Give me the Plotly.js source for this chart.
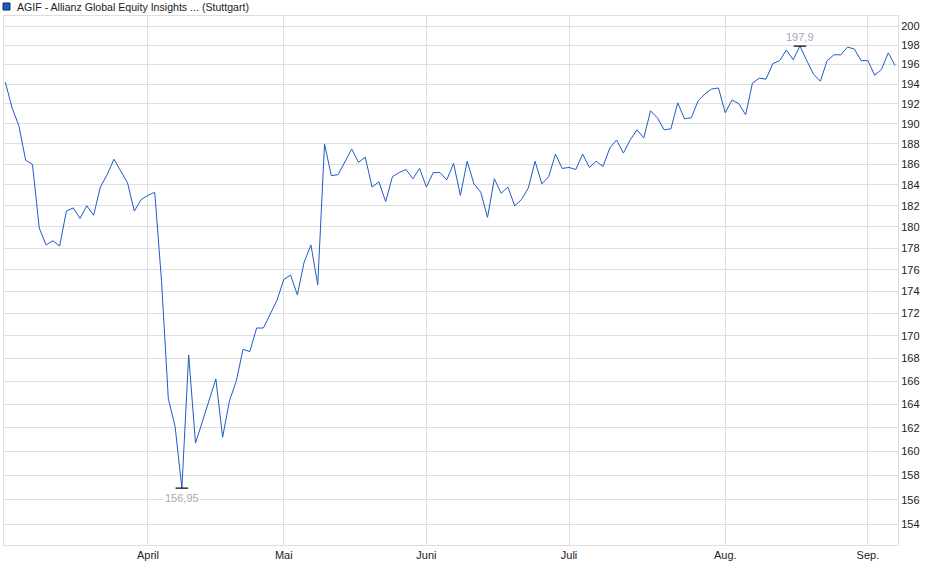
<!DOCTYPE html>
<html>
<head>
<meta charset="utf-8">
<script src="https://cdn.plot.ly/plotly-3.0.1.min.js"></script>
<style>
  html, body { margin: 0; padding: 0; background: #fff; }
  #chart { width: 940px; height: 579px; }
</style>
</head>
<body>
<div id="chart"></div>
<script>
// trading days, Börse Stuttgart, Mar - Sep 2025
var dates = [
  '2025-03-03','2025-03-04','2025-03-05','2025-03-06','2025-03-07',
  '2025-03-10','2025-03-11','2025-03-12','2025-03-13','2025-03-14',
  '2025-03-17','2025-03-18','2025-03-19','2025-03-20','2025-03-21',
  '2025-03-24','2025-03-25','2025-03-26','2025-03-27','2025-03-28',
  '2025-03-31','2025-04-01','2025-04-02','2025-04-03','2025-04-04',
  '2025-04-07','2025-04-08','2025-04-09','2025-04-10','2025-04-11',
  '2025-04-14','2025-04-15','2025-04-16','2025-04-17',
  '2025-04-22','2025-04-23','2025-04-24','2025-04-25',
  '2025-04-28','2025-04-29','2025-04-30','2025-05-02',
  '2025-05-05','2025-05-06','2025-05-07','2025-05-08','2025-05-09',
  '2025-05-12','2025-05-13','2025-05-14','2025-05-15','2025-05-16',
  '2025-05-19','2025-05-20','2025-05-21','2025-05-22','2025-05-23',
  '2025-05-26','2025-05-27','2025-05-28','2025-05-29','2025-05-30',
  '2025-06-02','2025-06-03','2025-06-04','2025-06-05','2025-06-06',
  '2025-06-09','2025-06-10','2025-06-11','2025-06-12','2025-06-13',
  '2025-06-16','2025-06-17','2025-06-18','2025-06-19','2025-06-20',
  '2025-06-23','2025-06-24','2025-06-25','2025-06-26','2025-06-27',
  '2025-06-30','2025-07-01','2025-07-02','2025-07-03','2025-07-04',
  '2025-07-07','2025-07-08','2025-07-09','2025-07-10','2025-07-11',
  '2025-07-14','2025-07-15','2025-07-16','2025-07-17','2025-07-18',
  '2025-07-21','2025-07-22','2025-07-23','2025-07-24','2025-07-25',
  '2025-07-28','2025-07-29','2025-07-30','2025-07-31','2025-08-01',
  '2025-08-04','2025-08-05','2025-08-06','2025-08-07','2025-08-08',
  '2025-08-11','2025-08-12','2025-08-13','2025-08-14','2025-08-15',
  '2025-08-18','2025-08-19','2025-08-20','2025-08-21','2025-08-22',
  '2025-08-25','2025-08-26','2025-08-27','2025-08-28','2025-08-29',
  '2025-09-01','2025-09-02','2025-09-03','2025-09-04','2025-09-05'
];

var prices = [
  194.2, 191.6, 189.8, 186.4, 186.0,
  179.9, 178.3, 178.7, 178.2, 181.5,
  181.8, 180.8, 182.0, 181.1, 183.8,
  185.0, 186.5, 185.3, 184.2, 181.5,
  182.6, 183.0, 183.3, 175.0, 164.5,
  162.1, 156.95, 168.3, 160.7, 162.5,
  164.3, 166.2, 161.2, 164.3,
  166.0, 168.8, 168.6, 170.7,
  170.7, 172.0, 173.2, 175.1,
  175.5, 173.7, 176.7, 178.3, 174.6,
  188.0, 184.9, 185.0, 186.2, 187.5,
  186.2, 186.7, 183.8, 184.3, 182.4,
  184.8, 185.2, 185.5, 184.6, 185.6,
  183.8, 185.2, 185.2, 184.5, 186.1,
  183.0, 186.3, 184.1, 183.3, 180.9,
  184.6, 183.2, 183.8, 182.0, 182.6,
  183.7, 186.3, 184.1, 184.8, 187.0,
  185.6, 185.7, 185.5, 187.0, 185.7,
  186.3, 185.8, 187.6, 188.4, 187.1,
  188.4, 189.4, 188.6, 191.3, 190.6,
  189.4, 189.5, 192.1, 190.5, 190.6,
  192.3, 193.0, 193.5, 193.6, 191.1,
  192.4, 192.0, 190.9, 194.1, 194.6,
  194.5, 196.1, 196.4, 197.5, 196.5,
  197.9, 196.4, 195.0, 194.3, 196.4,
  197.0, 197.0, 197.8, 197.6, 196.4,
  196.4, 194.9, 195.5, 197.2, 195.9
];

var monthTicks = ['2025-04-01', '2025-05-02', '2025-06-02', '2025-07-01', '2025-08-01', '2025-09-01'];
var monthLabels = ['April', 'Mai', 'Juni', 'Juli', 'Aug.', 'Sep.'];
var priceTicks = [154, 156, 158, 160, 162, 164, 166, 168, 170, 172, 174, 176, 178,
                  180, 182, 184, 186, 188, 190, 192, 194, 196, 198, 200];

var iMin = 0, iMax = 0;
for (var i = 1; i < prices.length; i++) {
    if (prices[i] < prices[iMin]) iMin = i;
    if (prices[i] > prices[iMax]) iMax = i;
}

function fmt(v) {
    return String(v).replace('.', ',');
}

var lineTrace = {
    x: dates,
    y: prices,
    type: 'scatter',
    mode: 'lines',
    line: {color: '#1f5bc6', width: 1},
    hoverinfo: 'skip'
};

// black bars at the high and the low
var extremes = {
    x: [dates[iMin], dates[iMax]],
    y: [prices[iMin], prices[iMax]],
    type: 'scatter',
    mode: 'markers',
    marker: {symbol: 'line-ew', size: 9, line: {color: '#000', width: 1.2}},
    hoverinfo: 'skip'
};

var gridColor = '#dedede';

var layout = {
    width: 940,
    height: 579,
    margin: {l: 4, r: 42, t: 16, b: 34, pad: 0},
    paper_bgcolor: '#fff',
    plot_bgcolor: '#fff',
    showlegend: false,
    hovermode: false,
    font: {family: 'Liberation Sans, Arial, sans-serif', size: 11, color: '#222'},
    xaxis: {
        type: 'category',
        range: [-0.19, 131.43],
        tickmode: 'array',
        tickvals: monthTicks,
        ticktext: monthLabels,
        showgrid: true,
        gridcolor: gridColor,
        gridwidth: 1,
        showline: true,
        linecolor: gridColor,
        linewidth: 1,
        mirror: true,
        ticks: '',
        zeroline: false,
        tickfont: {size: 11, color: '#222'}
    },
    yaxis: {
        type: 'log',
        side: 'right',
        range: [2.182807, 2.303308],
        tickmode: 'array',
        tickvals: priceTicks,
        ticktext: priceTicks.map(String),
        showgrid: true,
        gridcolor: gridColor,
        gridwidth: 1,
        showline: true,
        linecolor: gridColor,
        linewidth: 1,
        mirror: true,
        ticks: '',
        zeroline: false,
        tickfont: {size: 11, color: '#222'}
    },
    shapes: [{
        type: 'rect',
        xref: 'paper', yref: 'paper',
        x0: -0.0011, x1: 0.0067,
        y0: 1.0113, y1: 1.0246,
        fillcolor: '#1f5bc6',
        line: {color: '#1a2a50', width: 1}
    }],
    annotations: [
        {
            xref: 'paper', yref: 'paper',
            x: 0.0123, y: 1.0175,
            xanchor: 'left', yanchor: 'middle',
            text: 'AGIF - Allianz Global Equity Insights ... (Stuttgart)',
            showarrow: false,
            font: {size: 10.6, color: '#222'}
        },
        {
            x: dates[iMax], y: Math.log10(prices[iMax]),
            text: fmt(prices[iMax]),
            showarrow: false,
            yanchor: 'bottom',
            yshift: 1,
            font: {size: 11, color: '#a0a8b6'}
        },
        {
            x: dates[iMin], y: Math.log10(prices[iMin]),
            text: fmt(prices[iMin]),
            showarrow: false,
            yanchor: 'top',
            yshift: -2,
            bgcolor: '#fff',
            font: {size: 11, color: '#a8a8ac'}
        }
    ]
};

Plotly.newPlot('chart', [lineTrace, extremes], layout, {displayModeBar: false, staticPlot: true});
</script>
</body>
</html>
